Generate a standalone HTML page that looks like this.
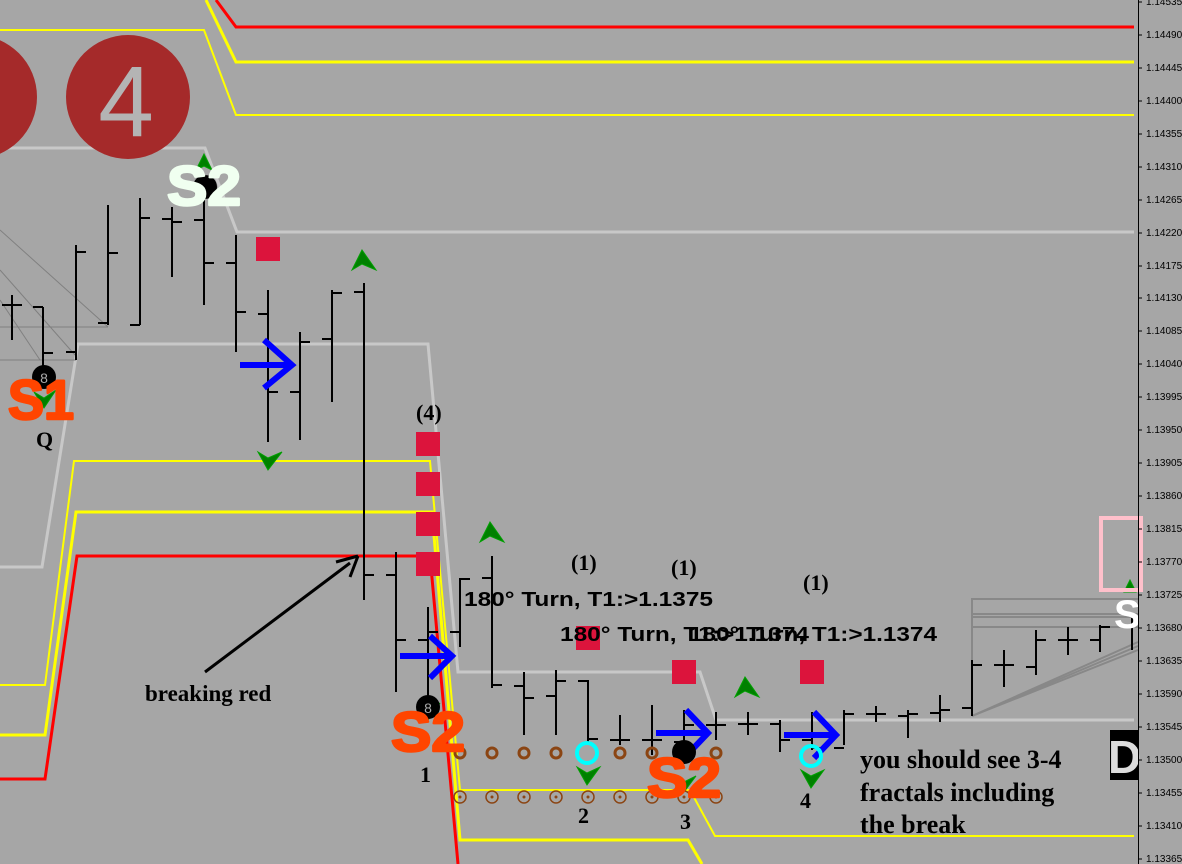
<!DOCTYPE html>
<html><head><meta charset="utf-8"><style>
html,body{margin:0;padding:0;background:#a6a6a6;}
svg{display:block}
</style></head><body>
<svg width="1182" height="864" viewBox="0 0 1182 864" xmlns="http://www.w3.org/2000/svg" font-family="Liberation Sans, sans-serif">
<rect width="1182" height="864" fill="#a6a6a6"/>
<polyline points="216,0 236,27 1134,27" fill="none" stroke="#ff0000" stroke-width="3"/>
<polyline points="206,0 236,62 1134,62" fill="none" stroke="#ffff00" stroke-width="3"/>
<polyline points="0,30 204,30 236,115 1134,115" fill="none" stroke="#ffff00" stroke-width="2"/>
<polyline points="0,148 205,148 237,232 1134,232" fill="none" stroke="#c8c8c8" stroke-width="3"/>
<polyline points="0,567 42,567 78,344 428,344 458,672 700,672 716,720 1134,720" fill="none" stroke="#c8c8c8" stroke-width="3"/>
<polyline points="0,685 45,685 74,461 430,461 460,790 690,790 715,836 1134,836" fill="none" stroke="#ffff00" stroke-width="2"/>
<polyline points="0,735 45,735 76,512 432,512 460,840 688,840 702,864" fill="none" stroke="#ffff00" stroke-width="3"/>
<polyline points="0,779 45,779 77,556 430,556 458,864" fill="none" stroke="#ff0000" stroke-width="3"/>
<g stroke="#808080" stroke-width="1" fill="none">
<line x1="0" y1="230" x2="108" y2="327"/><line x1="0" y1="270" x2="75" y2="355"/><line x1="0" y1="300" x2="40" y2="360"/>
<line x1="0" y1="327" x2="108" y2="327"/><line x1="0" y1="360" x2="76" y2="360"/>
</g>
<g stroke="#888" stroke-width="2" fill="none">
<polyline points="972,716 972,599 1138,599"/>
<line x1="972" y1="614" x2="1138" y2="614"/><line x1="972" y1="617" x2="1138" y2="617"/><line x1="972" y1="627" x2="1138" y2="627"/>
<line x1="972" y1="716" x2="1138" y2="642"/><line x1="972" y1="716" x2="1138" y2="646"/><line x1="972" y1="716" x2="1138" y2="650"/>
</g>
<circle cx="-25" cy="97" r="62" fill="#a52a2a"/>
<circle cx="128" cy="97" r="62" fill="#a52a2a"/>
<text x="126" y="136" font-size="100" fill="#b4b4b4" text-anchor="middle">4</text>
<g stroke="#000" stroke-width="2" fill="none">
<path d="M12,295V340M2,305H12M12,305H22"/>
<path d="M43,307V370M33,307H43M43,353H53"/>
<path d="M76,245V360M76,352H66M76,252H86"/>
<path d="M108,205V325M98,323H108M108,253H118"/>
<path d="M140,198V325M130,325H140M140,218H150"/>
<path d="M172,207V277M162,219H172M172,222H182"/>
<path d="M204,180V305M194,220H204M204,263H214"/>
<path d="M236,235V352M226,263H236M236,312H246"/>
<path d="M268,290V442M258,314H268M268,392H278"/>
<path d="M300,332V440M290,392H300M300,342H310"/>
<path d="M332,290V402M322,339H332M332,293H342"/>
<path d="M364,283V600M354,292H364M364,575H374"/>
<path d="M396,552V692M386,575H396M396,640H406"/>
<path d="M428,607V700M418,640H428M428,632H438"/>
<path d="M460,578V647M450,632H460M460,579H470"/>
<path d="M492,556V688M482,578H492M492,685H502"/>
<path d="M524,672V735M514,686H524M524,698H534"/>
<path d="M556,670V735M546,696H556M556,681H566"/>
<path d="M588,680V745M578,681H588M588,739H598"/>
<path d="M620,715V745M610,740H620M620,740H630"/>
<path d="M652,705V755M642,740H652M652,740H662"/>
<path d="M684,710V750M674,742H684M684,725H694"/>
<path d="M716,712V740M706,725H716M716,725H726"/>
<path d="M748,712V735M738,724H748M748,724H758"/>
<path d="M780,720V752M770,724H780M780,740H790"/>
<path d="M812,712V750M802,740H812M812,748H822"/>
<path d="M844,710V745M834,748H844M844,714H854"/>
<path d="M876,706V722M866,714H876M876,714H886"/>
<path d="M908,710V738M898,716H908M908,714H918"/>
<path d="M940,695V722M930,713H940M940,710H950"/>
<path d="M972,660V716M962,708H972M972,665H982"/>
<path d="M1004,650V687M994,665H1004M1004,665H1014"/>
<path d="M1036,630V675M1026,667H1036M1036,640H1046"/>
<path d="M1068,627V655M1058,640H1068M1068,640H1078"/>
<path d="M1100,625V652M1090,640H1100M1100,627H1110"/>
<path d="M1132,618V650M1122,627H1132"/>
</g>
<g fill="#dc143c">
<rect x="256" y="237" width="24" height="24"/>
<rect x="416" y="432" width="24" height="24"/>
<rect x="416" y="472" width="24" height="24"/>
<rect x="416" y="512" width="24" height="24"/>
<rect x="416" y="552" width="24" height="24"/>
<rect x="576" y="626" width="24" height="24"/>
<rect x="672" y="660" width="24" height="24"/>
<rect x="800" y="660" width="24" height="24"/>
</g>
<g fill="#008000" stroke="#00a000" stroke-width="1">
<path d="M204,154L196,170L204,166L212,170Z"/>
<path d="M362,250L352,270L362,264L376,270Z"/>
<path d="M490,522L480,542L490,536L504,542Z"/>
<path d="M745,677L735,697L745,691L759,697Z"/>
<path d="M268,470L258,452L268,458L282,452Z"/>
<path d="M587,785L577,767L587,773L600,767Z"/>
<path d="M811,788L801,770L811,776L824,770Z"/>
<path d="M44,408L34,392L44,398L56,390Z"/>
<path d="M428,720L418,705L428,710L440,703Z"/>
<path d="M684,792L674,776L684,782L696,776Z"/>
<path d="M1130,580L1124,592L1136,592Z"/>
</g>
<g fill="none" stroke="#0000ff" stroke-width="6">
<path d="M240,365H290M264,340L292,365L264,388"/>
<path d="M400,656H450M430,636L452,656L430,678"/>
<path d="M656,733H706M686,710L708,733L686,756"/>
<path d="M784,735H834M814,712L836,735L814,758"/>
</g>
<g>
<circle cx="44" cy="377" r="12" fill="#000"/><text x="44" y="383" font-size="14" fill="#aaa" text-anchor="middle">8</text>
<circle cx="205" cy="187" r="12" fill="#000"/>
<circle cx="428" cy="707" r="12" fill="#000"/><text x="428" y="713" font-size="14" fill="#aaa" text-anchor="middle">8</text>
<circle cx="684" cy="752" r="12" fill="#000"/>
</g>
<g fill="none" stroke="#8b4513" stroke-width="3">
<circle cx="460" cy="753" r="5"/><circle cx="492" cy="753" r="5"/><circle cx="524" cy="753" r="5"/><circle cx="556" cy="753" r="5"/><circle cx="620" cy="753" r="5"/><circle cx="652" cy="753" r="5"/><circle cx="716" cy="753" r="5"/>
</g>
<g fill="none" stroke="#8b4513" stroke-width="1.5">
<circle cx="460" cy="797" r="6"/><circle cx="492" cy="797" r="6"/><circle cx="524" cy="797" r="6"/><circle cx="556" cy="797" r="6"/><circle cx="588" cy="797" r="6"/><circle cx="620" cy="797" r="6"/><circle cx="652" cy="797" r="6"/><circle cx="684" cy="797" r="6"/><circle cx="716" cy="797" r="6"/>
</g>
<g fill="#8b4513">
<circle cx="460" cy="797" r="1.5"/><circle cx="492" cy="797" r="1.5"/><circle cx="524" cy="797" r="1.5"/><circle cx="556" cy="797" r="1.5"/><circle cx="588" cy="797" r="1.5"/><circle cx="620" cy="797" r="1.5"/><circle cx="652" cy="797" r="1.5"/><circle cx="684" cy="797" r="1.5"/><circle cx="716" cy="797" r="1.5"/>
</g>
<g fill="none" stroke="#00ffff" stroke-width="4">
<circle cx="587" cy="753" r="10"/><circle cx="811" cy="756" r="10"/>
</g>
<g font-weight="bold" font-size="56" stroke-width="2.5" stroke-linejoin="round">
<text x="167" y="205" fill="#f0fff0" stroke="#f0fff0" textLength="74" lengthAdjust="spacingAndGlyphs">S2</text>
<text x="8" y="419" fill="#ff4500" stroke="#ff4500" textLength="66" lengthAdjust="spacingAndGlyphs">S1</text>
<text x="391" y="751" fill="#ff4500" stroke="#ff4500" textLength="74" lengthAdjust="spacingAndGlyphs">S2</text>
<text x="647" y="797" fill="#ff4500" stroke="#ff4500" textLength="74" lengthAdjust="spacingAndGlyphs">S2</text>
</g>
<g font-family="Liberation Serif, serif" fill="#000" font-size="22" font-weight="bold">
<text x="36" y="447">Q</text>
<text x="416" y="420">(4)</text>
<text x="571" y="570">(1)</text>
<text x="671" y="575">(1)</text>
<text x="803" y="590">(1)</text>
<text x="420" y="782">1</text>
<text x="578" y="823">2</text>
<text x="680" y="829">3</text>
<text x="800" y="808">4</text>
<text x="145" y="701" font-size="23">breaking red</text>
<text x="860" y="768" font-size="26">you should see 3-4</text>
<text x="860" y="801" font-size="26">fractals including</text>
<text x="860" y="833" font-size="26">the break</text>
</g>
<g font-weight="bold" font-size="20" fill="#000">
<text x="464" y="606" textLength="249" lengthAdjust="spacingAndGlyphs">180° Turn, T1:&gt;1.1375</text>
<text x="560" y="641" textLength="249" lengthAdjust="spacingAndGlyphs">180° Turn, T1:&gt;1.1374</text>
<text x="689" y="641" textLength="248" lengthAdjust="spacingAndGlyphs">180° Turn, T1:&gt;1.1374</text>
</g>
<line x1="205" y1="672" x2="350" y2="563" stroke="#000" stroke-width="3"/>
<path d="M358,556L336,562M358,556L350,577" stroke="#000" stroke-width="3" fill="none"/>
<rect x="1101" y="518" width="40" height="72" fill="none" stroke="#ffc0cb" stroke-width="4"/>
<rect x="1110" y="730" width="28" height="50" fill="#000"/>
<text x="1108" y="773" font-size="46" font-weight="bold" fill="#ddd">D</text>
<text x="1114" y="628" font-size="40" font-weight="bold" fill="#fff">S</text>
<line x1="1138.5" y1="0" x2="1138.5" y2="864" stroke="#000" stroke-width="1"/>
<g font-size="10" fill="#000">
<text x="1146" y="5">1.14535</text>
<text x="1146" y="38">1.14490</text>
<text x="1146" y="71">1.14445</text>
<text x="1146" y="104">1.14400</text>
<text x="1146" y="137">1.14355</text>
<text x="1146" y="170">1.14310</text>
<text x="1146" y="203">1.14265</text>
<text x="1146" y="236">1.14220</text>
<text x="1146" y="269">1.14175</text>
<text x="1146" y="301">1.14130</text>
<text x="1146" y="334">1.14085</text>
<text x="1146" y="367">1.14040</text>
<text x="1146" y="400">1.13995</text>
<text x="1146" y="433">1.13950</text>
<text x="1146" y="466">1.13905</text>
<text x="1146" y="499">1.13860</text>
<text x="1146" y="532">1.13815</text>
<text x="1146" y="565">1.13770</text>
<text x="1146" y="598">1.13725</text>
<text x="1146" y="631">1.13680</text>
<text x="1146" y="664">1.13635</text>
<text x="1146" y="697">1.13590</text>
<text x="1146" y="730">1.13545</text>
<text x="1146" y="763">1.13500</text>
<text x="1146" y="796">1.13455</text>
<text x="1146" y="829">1.13410</text>
<text x="1146" y="862">1.13365</text>
</g>
<g stroke="#000"><path d="M1138,2h4M1138,35h4M1138,68h4M1138,101h4M1138,134h4M1138,167h4M1138,200h4M1138,233h4M1138,266h4M1138,298h4M1138,331h4M1138,364h4M1138,397h4M1138,430h4M1138,463h4M1138,496h4M1138,529h4M1138,562h4M1138,595h4M1138,628h4M1138,661h4M1138,694h4M1138,727h4M1138,760h4M1138,793h4M1138,826h4M1138,859h4"/></g>
</svg>
</body></html>
